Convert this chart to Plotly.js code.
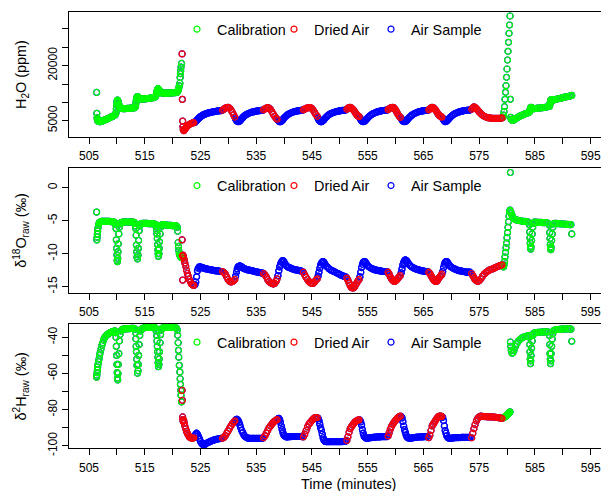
<!DOCTYPE html>
<html>
<head>
<meta charset="utf-8">
<script src="https://cdn.plot.ly/plotly-3.0.1.min.js"></script>
<style>html,body{margin:0;padding:0;background:#fff;}#chart{width:601px;height:491px;}</style>
</head>
<body>
<div id="chart"></div>
<script>
// ---- data ----
const time = [
 // calibration 1
 506.36,506.40,506.45,506.50,506.55,506.60,506.70,506.80,506.90,507.00,
 507.15,507.30,507.45,507.60,507.75,507.90,508.10,508.30,508.50,508.70,
 508.90,509.10,509.30,509.50,509.65,509.75,509.85,509.90,509.95,510.00,
 510.05,510.10,510.15,510.20,510.25,510.35,510.45,510.55,510.70,510.90,
 511.10,511.30,511.50,511.70,511.90,512.10,512.30,512.50,512.70,512.90,
 513.10,513.25,513.35,513.40,513.45,513.50,513.55,513.60,513.70,513.80,
 513.85,513.90,514.00,514.10,514.25,514.40,514.60,514.80,515.00,515.20,
 515.40,515.60,515.80,516.00,516.20,516.40,516.60,516.80,516.95,517.05,
 517.15,517.20,517.25,517.30,517.35,517.40,517.45,517.55,517.60,517.65,
 517.75,517.85,517.95,518.10,518.30,518.50,518.70,518.90,519.10,519.30,
 519.50,519.70,519.90,520.10,520.30,520.50,520.70,520.85,520.90,521.00,
 521.05,521.10,521.20,521.30,521.35,521.40,521.45,521.50,521.60,
 // dried 1
 521.70,521.75,521.80,521.85,521.90,522.00,522.10,522.20,522.35,522.50,
 522.65,522.80,523.00,523.20,523.40,523.60,523.80,
 // air 1
 524.00,524.15,524.30,524.45,524.60,524.80,525.00,525.20,525.40,525.60,
 525.80,526.00,526.30,526.60,526.90,527.20,527.50,527.80,528.10,528.40,528.70,
 // dried 2
 528.95,529.20,529.45,529.70,529.95,530.20,530.45,530.70,530.95,531.15,
 // air 2
 531.30,531.45,531.60,531.75,531.90,532.05,532.20,532.40,532.60,532.80,
 533.00,533.25,533.50,533.80,534.10,534.40,534.70,535.00,535.30,535.60,
 535.90,536.15,
 // dried 3
 536.30,536.55,536.80,537.05,537.30,537.55,537.80,538.05,538.30,538.55,538.75,
 // air 3
 538.90,539.05,539.20,539.35,539.50,539.65,539.80,539.95,540.15,540.40,
 540.65,540.90,541.20,541.50,541.80,542.10,542.40,542.70,543.00,543.25,
 // dried 4
 543.45,543.70,543.95,544.20,544.45,544.70,544.95,545.20,545.45,545.70,545.95,
 // air 4
 546.10,546.25,546.40,546.55,546.70,546.85,547.00,547.15,547.35,547.60,
 547.85,548.10,548.40,548.70,549.00,549.30,549.60,549.90,550.20,550.50,
 550.80,551.05,
 // dried 5
 551.25,551.45,551.65,551.85,552.05,552.25,552.45,552.65,552.85,553.05,553.25,553.45,
 // air 5
 553.60,553.75,553.90,554.05,554.20,554.35,554.50,554.70,554.90,555.15,
 555.40,555.70,556.00,556.30,556.60,556.90,557.20,557.50,557.80,558.10,558.40,
 // dried 6
 558.65,558.85,559.05,559.25,559.45,559.65,559.85,560.05,560.25,560.45,560.65,560.85,
 // air 6
 561.00,561.15,561.30,561.45,561.60,561.75,561.90,562.05,562.25,562.50,
 562.75,563.00,563.30,563.60,563.90,564.20,564.50,564.80,565.10,565.40,565.65,
 // dried 7
 565.95,566.15,566.35,566.55,566.75,566.95,567.15,567.35,567.55,567.75,567.95,568.15,568.30,
 // air 7
 568.45,568.60,568.75,568.90,569.05,569.20,569.40,569.60,569.85,570.10,
 570.40,570.70,571.00,571.30,571.60,571.90,572.20,572.50,572.80,573.10,573.35,
 // dried 8
 573.65,573.85,574.05,574.25,574.50,574.75,575.00,575.30,575.60,575.90,
 576.20,576.50,576.80,577.10,577.40,577.70,578.00,578.30,578.60,578.90,579.10,
 // calibration 2
 579.25,579.35,579.45,579.54,579.63,579.72,579.81,579.90,579.99,580.08,
 580.17,580.26,580.35,580.44,580.53,
 580.60,580.65,580.75,580.90,581.05,581.25,581.50,581.75,582.00,582.30,
 582.60,582.90,583.20,583.50,583.80,
 584.00,584.05,584.10,584.15,584.20,584.25,584.30,584.40,584.50,584.60,584.70,
 584.90,585.20,585.50,585.80,586.10,586.40,586.70,587.00,587.30,
 587.60,587.65,587.70,587.75,587.80,587.85,587.90,588.00,588.10,588.20,588.30,
 588.50,588.80,589.10,589.40,589.70,590.00,590.30,590.60,590.90,591.20,591.45,591.60
];

const h2o = [
 12700,7000,5800,5400,5100,4950,4850,4800,4760,4750,
 4780,4850,4950,5050,5150,5250,5400,5500,5650,5800,
 5950,6100,6250,6400,6550,6800,7200,8200,9200,9900,
 10400,10600,10550,10300,10000,9500,9000,8700,8450,8350,
 8300,8300,8300,8320,8340,8360,8380,8400,8430,8460,
 8500,8600,9000,9600,10200,10800,11200,11450,11550,11400,
 11300,11200,11100,11000,10950,10900,10900,10920,10950,10980,
 11000,11050,11100,11150,11200,11250,11300,11400,11600,12000,
 12600,13000,13300,13500,13650,13700,13650,13450,13250,13050,
 12850,12700,12600,12550,12500,12500,12500,12500,12500,12520,
 12540,12560,12580,12600,12620,12650,12700,12800,13000,13300,
 13600,13900,14500,15200,16800,17800,18600,19600,20600,
 23200,10800,4900,3400,2600,2300,2450,2700,3000,3300,
 3550,3750,3950,4150,4300,4400,4450,
 4550,4800,5050,5300,5550,5850,6100,6300,6500,6650,
 6800,6900,7050,7200,7300,7400,7500,7580,7650,7700,7750,
 7850,8150,8450,8600,8650,8450,8000,7300,6600,6000,
 5500,5100,4850,4750,4800,4950,5200,5550,5900,6200,
 6450,6700,6900,7100,7250,7400,7500,7600,7680,7750,
 7800,7850,
 7950,8200,8400,8550,8450,8100,7500,6800,6200,5700,5400,
 5150,4900,4750,4750,4850,5050,5350,5650,6000,6350,
 6650,6900,7100,7300,7450,7550,7650,7750,7800,7850,
 7950,8150,8350,8500,8600,8600,8350,7900,7300,6700,6200,
 5700,5200,4900,4750,4750,4850,5050,5300,5650,6050,
 6400,6700,6950,7150,7300,7450,7550,7650,7750,7800,
 7850,7900,
 8100,8400,8600,8650,8500,8250,7900,7500,7000,6600,6300,6100,
 5800,5350,5000,4800,4750,4800,4950,5250,5600,6000,
 6350,6700,6950,7150,7350,7500,7600,7700,7780,7830,7870,
 8000,8250,8450,8600,8650,8550,8250,7800,7250,6700,6250,5900,
 5650,5250,4950,4800,4750,4800,4950,5200,5550,5950,
 6300,6600,6900,7100,7300,7450,7550,7650,7720,7780,7820,
 7950,8200,8500,8650,8550,8300,7950,7500,7000,6600,6300,6100,5950,
 5700,5250,4900,4750,4800,4950,5250,5600,6000,6350,
 6700,6950,7150,7350,7500,7600,7700,7780,7830,7870,7900,
 8100,8500,8750,8650,8300,7850,7400,6900,6500,6200,
 6000,5850,5750,5700,5650,5650,5650,5650,5650,5700,5750,
 5900,6500,7450,8815,10830,12740,14540,16830,19090,21540,
 23910,26360,28820,31080,33530,
 10830,5900,5400,5150,5100,5250,5500,5750,6000,6250,
 6450,6650,6850,7000,7150,
 7300,7500,7800,8100,8400,8600,8650,8550,8450,8350,8300,
 8300,8350,8400,8450,8500,8550,8600,8700,8800,
 8900,9200,9600,10000,10300,10600,10700,10650,10600,10600,10650,
 10700,10850,10950,11050,11150,11300,11400,11500,11600,11700,11800,11900
];

const d18o = [
 -3.7,-7.9,-7.5,-7.0,-6.6,-6.1,-5.7,-5.4,-5.25,-5.2,
 -5.15,-5.1,-5.1,-5.1,-5.1,-5.1,-5.1,-5.1,-5.1,-5.1,
 -5.15,-5.15,-5.2,-5.2,-5.3,-5.6,-6.2,-7.9,-9.2,-10.2,
 -11.0,-11.2,-10.7,-9.7,-8.5,-7.0,-6.0,-5.5,-5.3,-5.25,
 -5.2,-5.2,-5.2,-5.2,-5.2,-5.2,-5.2,-5.2,-5.2,-5.2,
 -5.25,-5.4,-5.8,-6.2,-7.2,-8.7,-9.7,-10.5,-10.8,-10.2,
 -9.2,-8.0,-6.5,-5.8,-5.5,-5.45,-5.4,-5.4,-5.4,-5.4,
 -5.4,-5.45,-5.45,-5.45,-5.45,-5.45,-5.5,-5.5,-5.6,-5.9,
 -6.5,-7.0,-7.7,-8.6,-9.4,-10.0,-10.4,-10.0,-9.2,-8.2,
 -7.0,-6.0,-5.7,-5.6,-5.6,-5.6,-5.65,-5.65,-5.7,-5.7,
 -5.7,-5.7,-5.75,-5.75,-5.75,-5.75,-5.8,-6.0,-6.6,-8.3,
 -8.9,-9.5,-10.0,-10.2,-10.3,-10.4,-10.5,-10.55,-10.6,
 -7.9,-10.3,-14.0,-10.2,-10.4,-10.7,-11.0,-11.4,-11.9,-12.5,
 -13.0,-13.4,-13.9,-14.3,-14.6,-14.75,-14.8,
 -14.7,-14.3,-13.5,-12.6,-12.2,-12.0,-12.0,-12.1,-12.15,-12.2,
 -12.25,-12.3,-12.35,-12.4,-12.45,-12.5,-12.55,-12.6,-12.6,-12.65,-12.7,
 -12.7,-12.85,-13.1,-13.5,-13.9,-14.15,-14.3,-14.25,-14.1,-13.9,
 -13.4,-12.8,-12.3,-12.0,-11.9,-11.85,-11.9,-12.0,-12.15,-12.25,
 -12.3,-12.4,-12.45,-12.5,-12.55,-12.6,-12.7,-12.75,-12.8,-12.85,
 -12.9,-12.95,
 -13.0,-13.2,-13.5,-13.9,-14.2,-14.4,-14.5,-14.6,-14.5,-14.2,-13.8,
 -13.3,-12.6,-12.0,-11.6,-11.3,-11.1,-11.05,-11.2,-11.5,-11.8,
 -12.0,-12.1,-12.2,-12.3,-12.4,-12.45,-12.5,-12.55,-12.6,-12.7,
 -12.8,-13.2,-13.6,-13.9,-14.2,-14.4,-14.5,-14.5,-14.3,-14.0,-13.8,
 -13.4,-12.8,-12.2,-11.7,-11.4,-11.25,-11.2,-11.3,-11.6,-11.9,
 -12.1,-12.3,-12.5,-12.6,-12.7,-12.85,-13.0,-13.1,-13.25,-13.35,
 -13.45,-13.5,
 -13.7,-14.0,-14.4,-14.8,-15.1,-15.2,-15.2,-15.0,-14.7,-14.4,-14.1,-13.9,
 -13.5,-12.8,-12.1,-11.6,-11.3,-11.2,-11.2,-11.4,-11.7,-11.95,
 -12.1,-12.25,-12.35,-12.45,-12.5,-12.55,-12.6,-12.65,-12.7,-12.7,-12.75,
 -12.8,-13.1,-13.5,-13.8,-14.0,-14.15,-14.2,-14.1,-13.9,-13.7,-13.5,-13.3,
 -12.9,-12.3,-11.7,-11.3,-11.05,-10.95,-11.0,-11.15,-11.4,-11.7,
 -11.9,-12.05,-12.2,-12.3,-12.4,-12.45,-12.55,-12.6,-12.65,-12.7,-12.7,
 -12.8,-13.0,-13.3,-13.6,-13.9,-14.1,-14.2,-14.2,-14.0,-13.7,-13.5,-13.3,-13.1,
 -12.7,-12.1,-11.6,-11.3,-11.2,-11.2,-11.4,-11.7,-11.95,-12.1,
 -12.25,-12.35,-12.45,-12.55,-12.6,-12.65,-12.7,-12.75,-12.8,-12.8,-12.8,
 -13.0,-13.3,-13.6,-13.9,-14.1,-14.2,-14.1,-13.8,-13.4,-13.1,
 -12.85,-12.65,-12.5,-12.4,-12.3,-12.2,-12.05,-11.95,-11.85,-11.75,-11.7,
 -11.8,-12.0,-11.7,-11.2,-10.5,-9.8,-9.1,-8.4,-7.6,-6.8,
 -6.0,-5.15,-4.3,-3.6,-3.4,
 2.3,-3.6,-3.9,-4.2,-4.5,-4.7,-4.85,-4.9,-4.95,-5.0,
 -5.05,-5.1,-5.1,-5.15,-5.2,
 -5.6,-6.7,-7.6,-8.4,-9.0,-9.3,-8.9,-8.0,-7.0,-6.0,-5.4,
 -5.2,-5.2,-5.25,-5.25,-5.25,-5.3,-5.3,-5.3,-5.35,
 -5.7,-6.8,-7.7,-8.6,-9.2,-9.4,-9.0,-8.0,-7.0,-6.0,-5.5,
 -5.4,-5.4,-5.45,-5.45,-5.5,-5.5,-5.5,-5.55,-5.55,-5.6,-5.6,-7.0
];

const d2h = [
 -62.0,-61.0,-59.5,-58.0,-56.5,-55.0,-53.5,-52.0,-50.0,-48.5,
 -46.5,-44.5,-43.0,-41.5,-40.5,-39.7,-39.0,-38.4,-38.0,-37.6,
 -37.3,-37.0,-36.8,-36.6,-36.5,-37.5,-40.0,-45.0,-50.0,-55.0,
 -59.5,-62.5,-63.5,-60.0,-55.0,-49.0,-42.0,-38.5,-36.5,-35.8,
 -35.5,-35.4,-35.3,-35.3,-35.2,-35.2,-35.2,-35.1,-35.1,-35.1,
 -35.1,-35.5,-37.5,-40.8,-45.0,-48.0,-52.0,-55.5,-59.9,-58.5,
 -55.0,-50.0,-44.0,-39.0,-36.5,-35.5,-35.0,-34.8,-34.7,-34.6,
 -34.6,-34.5,-34.5,-34.5,-34.5,-34.5,-34.5,-34.5,-35.0,-36.5,
 -39.0,-42.0,-45.0,-48.0,-51.0,-54.0,-56.2,-55.0,-52.0,-48.0,
 -43.0,-38.5,-36.0,-35.0,-34.6,-34.5,-34.5,-34.5,-34.5,-34.5,
 -34.5,-34.5,-34.5,-34.5,-34.5,-34.5,-35.0,-36.0,-38.9,-43.0,
 -47.2,-51.0,-55.5,-59.2,-62.9,-66.0,-69.3,-72.0,-75.7,
 -69.3,-74.8,-84.0,-85.5,-86.5,-86.0,-87.5,-89.0,-90.5,-92.0,
 -93.0,-94.0,-95.0,-95.5,-95.8,-95.8,-95.5,
 -94.5,-93.5,-93.0,-93.6,-94.5,-96.0,-97.5,-98.5,-99.2,-99.4,
 -99.2,-98.7,-98.2,-97.8,-97.4,-97.0,-96.7,-96.4,-96.2,-96.0,-95.9,
 -95.8,-95.3,-94.3,-93.0,-91.7,-90.3,-89.0,-87.8,-86.9,-86.2,
 -85.7,-85.3,-85.4,-86.0,-87.0,-88.3,-89.8,-91.5,-92.8,-94.0,
 -94.8,-95.4,-95.7,-95.8,-95.8,-95.8,-95.8,-95.8,-95.8,-95.8,
 -95.8,-95.7,
 -95.5,-94.5,-93.0,-91.5,-90.0,-89.0,-88.0,-87.0,-86.3,-85.8,-85.5,
 -85.0,-84.8,-85.5,-87.0,-89.0,-91.0,-92.8,-94.0,-94.7,-95.0,
 -95.0,-94.9,-94.9,-94.8,-94.8,-94.8,-94.8,-94.8,-94.8,-94.9,
 -95.0,-93.5,-91.5,-89.5,-88.0,-87.0,-86.0,-85.2,-84.5,-84.3,-84.4,
 -84.8,-86.0,-88.0,-90.0,-91.5,-93.5,-95.5,-96.8,-97.5,-97.7,
 -97.7,-97.7,-97.7,-97.7,-97.7,-97.7,-97.7,-97.7,-97.7,-97.6,
 -97.5,-97.4,
 -97.0,-95.0,-92.5,-90.5,-89.5,-88.6,-87.8,-87.0,-86.4,-86.0,-85.7,-85.6,
 -85.8,-86.8,-88.5,-91.0,-93.0,-94.5,-95.2,-95.7,-95.8,-95.7,
 -95.5,-95.4,-95.3,-95.2,-95.1,-95.0,-95.0,-94.9,-94.9,-94.9,-94.9,
 -94.5,-92.8,-90.8,-89.3,-88.2,-87.3,-86.4,-85.6,-84.9,-84.3,-83.8,-83.6,
 -83.8,-84.5,-86.5,-89.0,-91.0,-92.5,-94.0,-95.0,-95.6,-95.8,
 -95.7,-95.6,-95.4,-95.3,-95.2,-95.1,-95.0,-95.0,-94.9,-94.9,-94.9,
 -95.5,-94.0,-91.5,-89.0,-88.0,-87.0,-86.0,-85.0,-84.2,-83.7,-83.5,-83.6,-83.8,
 -84.2,-86.0,-89.0,-91.5,-93.0,-94.5,-95.5,-95.8,-95.8,-95.7,
 -95.6,-95.5,-95.5,-95.4,-95.4,-95.3,-95.3,-95.3,-95.3,-95.3,-95.4,
 -95.5,-93.0,-90.5,-88.3,-86.2,-84.8,-83.9,-83.6,-83.7,-83.8,
 -83.9,-84.0,-84.0,-84.0,-84.0,-84.1,-84.2,-84.3,-84.5,-84.7,-84.8,
 -84.6,-84.4,-84.3,-84.1,-83.9,-83.7,-83.5,-83.2,-83.0,-82.7,
 -82.4,-82.1,-81.8,-81.5,-81.2,
 -42.6,-45.0,-47.2,-48.8,-48.5,-47.0,-45.0,-43.5,-42.2,-41.2,
 -40.5,-40.0,-39.6,-39.3,-39.0,
 -40.0,-44.0,-48.0,-52.0,-54.6,-53.0,-50.0,-46.0,-42.0,-39.0,-38.0,
 -37.6,-37.4,-37.3,-37.2,-37.1,-37.1,-37.0,-37.0,-37.0,
 -39.0,-44.0,-49.0,-52.0,-54.6,-53.0,-49.0,-45.0,-41.0,-38.0,-36.5,
 -36.0,-35.8,-35.7,-35.6,-35.5,-35.5,-35.4,-35.4,-35.4,-35.4,-35.5,-42.2
];

// which sample stream was measured, by start time of each period
const segmentStart = [506.0,521.65,523.95,528.9,531.25,536.25,538.85,543.4,546.05,551.2,553.55,558.6,560.95,565.9,568.4,573.6,579.2];
const segmentGroup = ['Calibration','Dried Air','Air Sample','Dried Air','Air Sample','Dried Air','Air Sample','Dried Air','Air Sample','Dried Air','Air Sample','Dried Air','Air Sample','Dried Air','Air Sample','Dried Air','Calibration'];

const groupNames = ['Calibration','Dried Air','Air Sample'];
const groupColors = ['#00FF00','#FF0000','#0000FF'];

// labelled ticks and unlabelled (minor) ticks
const xTickVals = [505,515,525,535,545,555,565,575,585,595];
const xTickText = ['505','515','525','535','545','555','565','575','585','595'];
const xMinorTickVals = [510,520,530,540,550,560,570,580,590];
const h2oTickVals = [5000,20000];
const h2oTickText = ['5000','20000'];
const h2oMinorTickVals = [10000,15000,25000,30000];
const d18oTickVals = [-15,-10,-5,0];
const d18oTickText = ['-15','-10','-5','0'];
const d2hTickVals = [-100,-80,-60,-40];
const d2hTickText = ['-100','-80','-60','-40'];
const d2hMinorTickVals = [-90,-70,-50];
const xTitle = 'Time (minutes)';

// ---- build ----
const n = time.length;
if (h2o.length !== n || d18o.length !== n || d2h.length !== n) {
  throw new Error('length mismatch ' + [n, h2o.length, d18o.length, d2h.length].join(','));
}
function groupAt(t) {
  let g = segmentGroup[0];
  for (let i = 0; i < segmentStart.length; i++) if (t >= segmentStart[i]) g = segmentGroup[i];
  return g;
}
const groups = time.map(groupAt);

const FONT = 'Liberation Sans, Arial, Helvetica, sans-serif';
const MS = 6, MW = 1.2;
const panels = [
  {vals: h2o,  xa: 'x',  ya: 'y',  lg: 'legend'},
  {vals: d18o, xa: 'x2', ya: 'y2', lg: 'legend2'},
  {vals: d2h,  xa: 'x3', ya: 'y3', lg: 'legend3'}
];
const traces = [];
panels.forEach(p => {
  // R draws every sample first in blue, then overplots calibration and dried air
  traces.push({type: 'scatter', mode: 'markers', x: time, y: p.vals, xaxis: p.xa, yaxis: p.ya,
    showlegend: false, hoverinfo: 'skip', name: 'all samples',
    marker: {symbol: 'circle-open', size: MS, color: groupColors[2], line: {width: MW, color: groupColors[2]}}});
  [2, 0, 1].forEach(gi => {
    const xs = [], ys = [];
    time.forEach((t, i) => { if (groups[i] === groupNames[gi]) { xs.push(t); ys.push(p.vals[i]); } });
    const tr = {type: 'scatter', mode: 'markers', x: xs, y: ys, xaxis: p.xa, yaxis: p.ya,
      name: groupNames[gi], legend: p.lg, legendrank: gi + 1,
      marker: {symbol: 'circle-open', size: MS, color: groupColors[gi], line: {width: MW, color: groupColors[gi]}}};
    if (gi === 2) tr.legendwidth = 80;
    traces.push(tr);
  });
});

const W = 601, H = 491;
const xDom = [69 / W, 1];
const tickFont = {family: FONT, size: 12, color: '#000'};
function xax(anchor) {
  return {domain: xDom, range: [501.41, 596.85], anchor: anchor,
    tickmode: 'array', tickvals: xTickVals, ticktext: xTickText,
    ticks: 'outside', ticklen: 6, tickwidth: 1, tickcolor: '#000',
    minor: {tickmode: 'array', tickvals: xMinorTickVals, ticks: 'outside', ticklen: 6, tickwidth: 1, tickcolor: '#000', showgrid: false},
    showline: true, mirror: true, linecolor: '#000', linewidth: 1,
    showgrid: false, zeroline: false, automargin: false, ticklabelstandoff: 2,
    ticklabeloverflow: 'allow', tickfont: tickFont};
}
function yax(anchor, top, bottom, range, tv, tt, minorVals, title) {
  const a = {domain: [1 - bottom / H, 1 - top / H], range: range, anchor: anchor,
    tickmode: 'array', tickvals: tv, ticktext: tt, tickangle: -90,
    ticks: 'outside', ticklen: 6, tickwidth: 1, tickcolor: '#000',
    showline: true, mirror: false, linecolor: '#000', linewidth: 1,
    showgrid: false, zeroline: false, automargin: false, ticklabelstandoff: 0,
    ticklabeloverflow: 'allow', tickfont: tickFont,
    title: {text: title, font: {family: FONT, size: 14.4, color: '#000'}, standoff: 16}};
  if (minorVals) a.minor = {tickmode: 'array', tickvals: minorVals, ticks: 'outside', ticklen: 6, tickwidth: 1, tickcolor: '#000', showgrid: false};
  return a;
}
function leg(yc) {
  return {orientation: 'h', x: 177 / W, xanchor: 'left', y: 1 - yc / H, yanchor: 'middle',
    entrywidth: 52, entrywidthmode: 'pixels', bgcolor: 'rgba(0,0,0,0)', borderwidth: 0,
    font: {family: FONT, size: 14.4, color: '#000'}, itemsizing: 'trace'};
}
const layout = {
  width: W, height: H, margin: {l: 0, r: 0, t: 0, b: 0},
  paper_bgcolor: '#fff', plot_bgcolor: '#fff',
  font: {family: FONT, size: 12, color: '#000'},
  showlegend: true, hovermode: false,
  xaxis: xax('y'), xaxis2: xax('y2'), xaxis3: xax('y3'),
  yaxis: yax('x', 12, 137, [558, 34621], h2oTickVals, h2oTickText, h2oMinorTickVals, 'H<sub>2</sub>O (ppm)'),
  yaxis2: yax('x2', 168.3, 292.7, [-15.91, 2.94], d18oTickVals, d18oTickText, null, '\u03b4<sup>18</sup>O<sub>raw</sub> (\u2030)'),
  yaxis3: yax('x3', 324.3, 448.3, [-101.33, -32.82], d2hTickVals, d2hTickText, d2hMinorTickVals, '\u03b4<sup>2</sup>H<sub>raw</sub> (\u2030)'),
  legend: leg(29.3), legend2: leg(185.7), legend3: leg(342.3),
  annotations: [{text: xTitle, xref: 'paper', yref: 'paper', x: 348 / W, y: 1 - 484 / H,
    xanchor: 'center', yanchor: 'middle', showarrow: false, font: {family: FONT, size: 14.4, color: '#000'}}]
};
Plotly.newPlot('chart', traces, layout, {staticPlot: true, displayModeBar: false});
</script>
</body>
</html>
